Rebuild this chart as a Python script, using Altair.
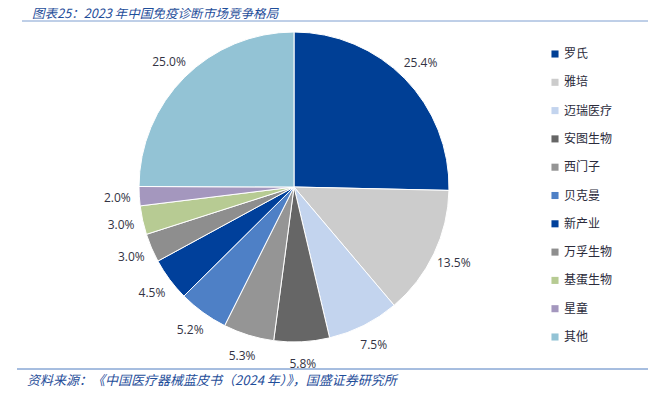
import altair as alt
import pandas as pd

companies = ["罗氏", "雅培", "迈瑞医疗", "安图生物", "西门子", "贝克曼", "新产业", "万孚生物", "基蛋生物", "星童", "其他"]
shares = [25.4, 13.5, 7.5, 5.8, 5.3, 5.2, 4.5, 3.0, 3.0, 2.0, 25.0]
colors = ["#003F95", "#CCCCCC", "#C3D4EE", "#666666", "#959595", "#4E80C6", "#00409B", "#8E8E8E", "#B7CB93", "#A497BE", "#93C3D5"]

title_text = "图表25：2023 年中国免疫诊断市场竞争格局"
source_text = "资料来源：《中国医疗器械蓝皮书（2024 年）》，国盛证券研究所"

df = pd.DataFrame({
    "company": companies,
    "share": shares,
    "label": [f"{v:.1f}%" for v in shares],
    "order": list(range(len(companies))),
})
one = pd.DataFrame({"k": [0]})

CX, CY = 286, 179
CJK = "Noto Sans CJK SC"

base = alt.Chart(df).encode(
    theta=alt.Theta("share:Q", stack=True),
    order=alt.Order("order:Q"),
)

pie = base.mark_arc(outerRadius=155, stroke="white", strokeWidth=1).encode(
    x=alt.value(CX), y=alt.value(CY),
    color=alt.Color(
        "company:N",
        scale=alt.Scale(domain=companies, range=colors),
        sort=companies,
        legend=alt.Legend(
            title=None, orient="none", legendX=541, legendY=40,
            symbolType="square", symbolSize=50, symbolStrokeWidth=0,
            labelFont=CJK, labelFontSize=12, labelColor="#2B2B3B",
            rowPadding=16.3, labelOffset=3,
        ),
    ),
)

labels = base.mark_text(radius=177, fontSize=12, font="Open Sans", color="#333344").encode(
    x=alt.value(CX), y=alt.value(CY), text="label:N",
)

title = alt.Chart(one).mark_text(
    align="left", baseline="top", fontSize=12.6, font=CJK, fontStyle="italic", color="#1F4E9A"
).encode(x=alt.value(24), y=alt.value(0), text=alt.value(title_text))

title_rule = alt.Chart(one).mark_rule(color="#7F9FD0", strokeWidth=1).encode(
    x=alt.value(14), x2=alt.value(640), y=alt.value(13)
)

source_rule = alt.Chart(one).mark_rule(color="#4F7CC0", strokeWidth=1).encode(
    x=alt.value(9), x2=alt.value(640), y=alt.value(361)
)

source = alt.Chart(one).mark_text(
    align="left", baseline="middle", fontSize=13, font=CJK, fontStyle="italic", color="#1F4E9A"
).encode(x=alt.value(19), y=alt.value(373), text=alt.value(source_text))

chart = alt.layer(pie, labels, title, title_rule, source_rule, source).properties(
    width=640, height=382, padding=0, autosize=alt.AutoSizeParams(type="none")
).configure_view(stroke=None)

chart.save("out.html", embed_options={"renderer": "svg", "actions": False})
